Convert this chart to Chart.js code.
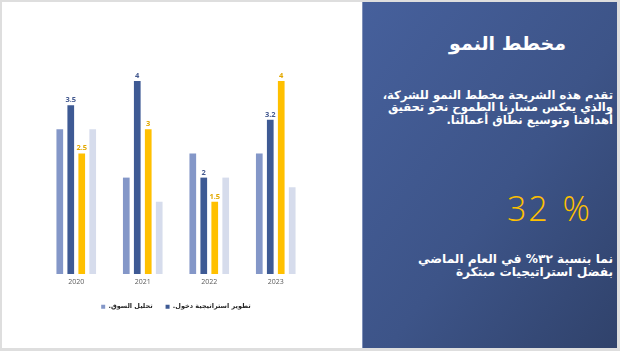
<!DOCTYPE html>
<html>
<head>
<meta charset="utf-8">
<script src="https://cdn.jsdelivr.net/npm/chart.js@4"></script>
<style>
  html, body { margin: 0; padding: 0; }
  body { width: 620px; height: 351px; background: #dedede; position: relative; overflow: hidden; }
  #slide { position: absolute; left: 2px; top: 2px; width: 615px; height: 346px; background: #ffffff; }
  #chartBox { position: absolute; left: 0; top: 0; width: 362px; height: 351px; }
  #panel { position: absolute; left: 362px; top: 2px; width: 255px; height: 346px;
    background: linear-gradient(to bottom right, #46609c 0%, #3d5488 55%, #30426b 100%);
    box-shadow: inset 1px 0 0 #7f90b8; }
  .ar { position: absolute; direction: rtl; white-space: nowrap; color: #ffffff; font-family: "DejaVu Sans", sans-serif; font-weight: bold; }
  #title { right: 51px; top: 28px; font-size: 19px; line-height: 26px; }
  #para { right: 4px; top: 86.5px; font-size: 11.6px; line-height: 12.5px; text-align: right; }
  #pct { position: absolute; right: 25px; top: 186px; font-family: "Open Sans", sans-serif; font-weight: 300; font-size: 34px; line-height: 40px; letter-spacing: 2px; word-spacing: 2px; color: #ffc000; white-space: nowrap; }
  #note { right: 4px; top: 251px; font-size: 12.2px; line-height: 13px; text-align: right; }
</style>
</head>
<body>
<div id="slide"></div>
<div id="chartBox"><canvas id="c" width="362" height="351"></canvas></div>
<div id="panel">
  <div id="title" class="ar">مخطط النمو</div>
  <div id="para" class="ar">تقدم هذه الشريحة مخطط النمو للشركة،<br>والذي يعكس مسارنا الطموح نحو تحقيق<br>أهدافنا وتوسيع نطاق أعمالنا.</div>
  <div id="pct">32 %</div>
  <div id="note" class="ar">نما بنسبة ٣٢% في العام الماضي<br>بفضل استراتيجيات مبتكرة</div>
</div>
<script>
const categories = ["2020", "2021", "2022", "2023"];
const seriesNames = ["تحليل السوق.\u200F", "تطوير استراتيجية دخول.\u200F", "السلسلة 3", "السلسلة 4"];
const marketAnalysis = [3, 2, 2.5, 2.5];
const entryStrategy = [3.5, 4, 2, 3.2];
const series3 = [2.5, 3, 1.5, 4];
const series4 = [3, 1.5, 2, 1.8];
const seriesColors = ["#8497c8", "#3e5a94", "#ffc000", "#d6dcec"];
const labelColors = { 1: "#44598f", 2: "#e2a800" };
const labeledSeries = [1, 2];
const legendSeries = [0, 1];

const valueLabels = {
  id: 'valueLabels',
  afterDatasetsDraw(chart) {
    const ctx = chart.ctx;
    labeledSeries.forEach(di => {
      const meta = chart.getDatasetMeta(di);
      meta.data.forEach((bar, i) => {
        const v = chart.data.datasets[di].data[i];
        ctx.save();
        ctx.font = 'bold 7.5px "Open Sans", sans-serif';
        ctx.fillStyle = labelColors[di];
        ctx.textAlign = 'center';
        ctx.textBaseline = 'bottom';
        ctx.fillText(String(v), bar.x, bar.y - 1.5);
        ctx.restore();
      });
    });
  }
};

const allSeries = [marketAnalysis, entryStrategy, series3, series4];
new Chart(document.getElementById('c'), {
  type: 'bar',
  data: {
    labels: categories,
    datasets: allSeries.map((d, i) => ({
      label: seriesNames[i],
      data: d,
      backgroundColor: seriesColors[i],
      borderWidth: 0,
      categoryPercentage: 0.66,
      barPercentage: 0.61
    }))
  },
  options: {
    responsive: false,
    animation: false,
    devicePixelRatio: 1,
    layout: { padding: { left: 43, right: 53, top: 57, bottom: 31 } },
    scales: {
      x: {
        grid: { display: false, drawTicks: false },
        border: { display: false },
        ticks: { padding: 4, color: '#595959', font: { family: 'Open Sans', size: 7 } }
      },
      y: { display: false, min: 0, max: 4.5 }
    },
    plugins: {
      legend: {
        position: 'bottom',
        labels: {
          boxWidth: 4, boxHeight: 4, padding: 13,
          color: '#262626',
          font: { family: 'DejaVu Sans', size: 6.5, weight: 'bold' },
          filter: item => legendSeries.includes(item.datasetIndex)
        }
      },
      tooltip: { enabled: false }
    }
  },
  plugins: [valueLabels]
});
</script>
</body>
</html>
